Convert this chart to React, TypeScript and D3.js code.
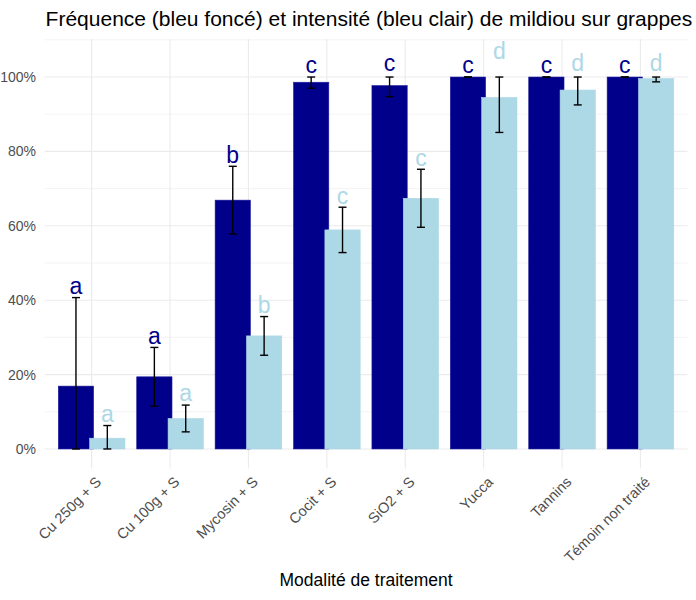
import * as d3 from 'd3';

// traitements
const categories = [
	"Cu 250g + S",
	"Cu 100g + S",
	"Mycosin + S",
	"Cocit + S",
	"SiO2 + S",
	"Yucca",
	"Tannins",
	"Témoin non traité",
];

// fréquence (bleu foncé), en %
const freqMean = [16.9, 19.4, 66.9, 98.6, 97.7, 100, 100, 100];
const freqSd = [23.8, 7.9, 9.1, 1.6, 3.0, 0, 0, 0];
const freqLetters = ["a", "a", "b", "c", "c", "c", "c", "c"];

// intensité (bleu clair), en %
const intMean = [2.9, 8.2, 30.4, 58.9, 67.4, 94.5, 96.5, 99.6];
const intSd = [3.4, 3.6, 5.2, 6.1, 7.8, 9.4, 4.0, 0.9];
const intLetters = ["a", "a", "b", "c", "c", "d", "d", "d"];

const yTicks = [0, 20, 40, 60, 80, 100];
const yMinor = [10, 30, 50, 70, 90, 110];

const W = 696;
const H = 600;
const margin = { top: 38.9, right: 8.5, bottom: 131.5, left: 44.6 };

const App = () => {
	const x = d3.scalePoint<string>()
		.domain(categories)
		.range([margin.left, W - margin.right])
		.padding(0.6);
	const step = x.step();

	const y = d3.scaleLinear()
		.domain([-5.25, 110.25])
		.range([H - margin.bottom, margin.top]);

	const barW = step * 0.45;
	const dodge = step * 0.2;
	const capW = 8;

	const series = [
		{ mean: freqMean, sd: freqSd, letters: freqLetters, fill: "#00008B", stroke: "#1c1c9c", off: -dodge },
		{ mean: intMean, sd: intSd, letters: intLetters, fill: "#ADD8E6", stroke: "#ADD8E6", off: dodge },
	];

	const fontFam = "'Liberation Sans', Arial, sans-serif";

	return (
		<svg width={W} height={H} style={{ display: "block", position: "absolute", left: 0, top: 0 }}
			fontFamily={fontFam}>
			<rect width={W} height={H} fill="#fff" />
			{/* grille */}
			{yMinor.map(t => (
				<line key={"mn" + t} x1={margin.left} x2={W - margin.right} y1={y(t)} y2={y(t)}
					stroke="#EBEBEB" strokeWidth={0.6} />
			))}
			{yTicks.map(t => (
				<line key={"mj" + t} x1={margin.left} x2={W - margin.right} y1={y(t)} y2={y(t)}
					stroke="#EBEBEB" strokeWidth={1.1} />
			))}
			{categories.map(c => (
				<line key={"v" + c} x1={x(c)} x2={x(c)} y1={margin.top} y2={H - margin.bottom}
					stroke="#EBEBEB" strokeWidth={1.1} />
			))}

			{/* barres */}
			{series.map((s, si) => categories.map((c, i) => (
				<rect key={"b" + si + i}
					x={(x(c) as number) + s.off - barW / 2}
					y={y(s.mean[i])}
					width={barW}
					height={y(0) - y(s.mean[i])}
					fill={s.fill}
					stroke={s.stroke}
					strokeWidth={0.6} />
			)))}

			{/* barres d'erreur */}
			{series.map((s, si) => categories.map((c, i) => {
				const cx = (x(c) as number) + s.off;
				const lo = Math.max(0, s.mean[i] - s.sd[i]);
				const hi = Math.min(100, s.mean[i] + s.sd[i]);
				return (
					<g key={"e" + si + i} stroke="#000" strokeWidth={1.4}>
						<line x1={cx} x2={cx} y1={y(lo)} y2={y(hi)} />
						<line x1={cx - capW / 2} x2={cx + capW / 2} y1={y(lo)} y2={y(lo)} />
						<line x1={cx - capW / 2} x2={cx + capW / 2} y1={y(hi)} y2={y(hi)} />
					</g>
				);
			}))}

			{/* lettres */}
			{series.map((s, si) => categories.map((c, i) => (
				<text key={"l" + si + i}
					x={(x(c) as number) + s.off}
					y={y(s.mean[i] + s.sd[i] + 2.6)}
					dy="0.26em"
					textAnchor="middle"
					fontSize={23}
					fill={s.fill}>{s.letters[i]}</text>
			)))}

			{/* axe y */}
			{yTicks.map(t => (
				<text key={"yt" + t} x={36} y={y(t)} dy="0.36em" textAnchor="end"
					fontSize={14} fill="#4D4D4D">{t + "%"}</text>
			))}

			{/* axe x */}
			{categories.map(c => (
				<text key={"xt" + c} textAnchor="end" fontSize={14.6} fill="#4D4D4D"
					transform={`translate(${(x(c) as number) + 3},${H - margin.bottom + 7}) rotate(-45)`}
					dy="0.72em">{c}</text>
			))}

			<text x={(margin.left + W - margin.right) / 2} y={586} textAnchor="middle"
				fontSize={17.5} fill="#000">Modalité de traitement</text>

			<text x={margin.left + 1} y={26} fontSize={21} fill="#000">
				Fréquence (bleu foncé) et intensité (bleu clair) de mildiou sur grappes
			</text>
		</svg>
	);
};

export default App;
